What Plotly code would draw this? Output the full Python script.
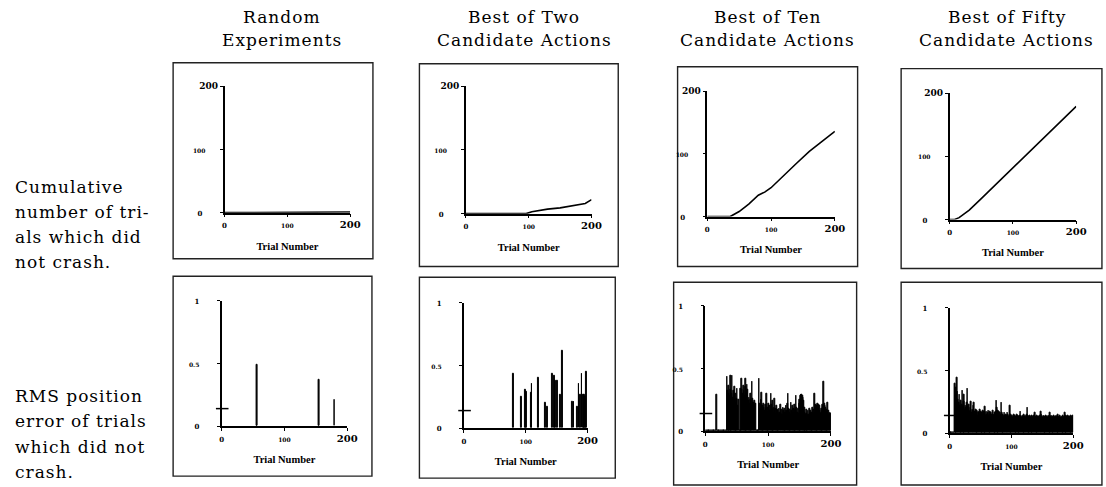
import plotly.graph_objects as go

W, H = 1106, 487

# ---------------- data ----------------
col_titles = [["Random", "Experiments"],
              ["Best of Two", "Candidate Actions"],
              ["Best of Ten", "Candidate Actions"],
              ["Best of Fifty", "Candidate Actions"]]
row_labels = [["Cumulative", "number of tri-", "als which did", "not crash."],
              ["RMS position", "error of trials", "which did not", "crash."]]

x_tick_vals = [0, 100, 200]
x_tick_labels = ["0", "100", "200"]
count_tick_vals = [0, 100, 200]
count_tick_labels = ["0", "100", "200"]
rms_tick_vals = [0, 0.5, 1]
rms_tick_labels = ["0", "0.5", "1"]
x_title = "Trial Number"

# cumulative number of trials which did not crash
cum_random_x = [0, 50, 100, 150, 200]
cum_random_y = [0, 0, 0, 0, 1]
cum_two_x = [0, 96, 105, 115, 130, 150, 165, 180, 190, 200]
cum_two_y = [0, 0, 3, 5, 7, 9, 12, 14, 16, 22]
cum_ten_x = [0, 36, 50, 65, 80, 90, 100, 120, 140, 160, 180, 200]
cum_ten_y = [0, 0, 8, 20, 34, 39, 46, 66, 85, 104, 120, 136]
cum_fifty_x = [0, 8, 15, 20, 31, 50, 100, 150, 200]
cum_fifty_y = [0, 0, 3, 7, 15, 33, 82, 131, 179]

# RMS position error of trials which did not crash (0 = crashed)
rms_random_trials = [56, 155, 180]
rms_random = [0.49, 0.37, 0.21]
rms_two_trials = [80, 93, 100, 101, 109, 110, 120, 132, 135, 143, 146, 148, 151,
                  156, 159, 176, 178, 184, 186, 188, 191, 193, 194, 195, 196, 198]
rms_two = [0.43, 0.25, 0.31, 0.29, 0.28, 0.35, 0.40, 0.20, 0.17, 0.43, 0.42, 0.38, 0.38,
           0.27, 0.62, 0.21, 0.21, 0.17, 0.35, 0.27, 0.43, 0.27, 0.27, 0.27, 0.25, 0.45]
rms_ten_trials = list(range(1, 201))
rms_ten = [
    0, 0, 0, 0, 0, 0, 0, 0, 0, 0,
    0, 0, 0, 0, 0, 0, 0, 0.29, 0, 0,
    0, 0, 0, 0, 0, 0, 0, 0, 0, 0,
    0, 0, 0, 0, 0.43, 0.32, 0.36, 0.30, 0.28, 0.33,
    0.44, 0.30, 0.44, 0.27, 0.32, 0.25, 0.35, 0.30, 0.22, 0.26,
    0.34, 0.20, 0.25, 0, 0, 0, 0.34, 0.42, 0.33, 0.30,
    0.36, 0.32, 0.28, 0.42, 0.35, 0.30, 0.37, 0.33, 0.24, 0.27,
    0.22, 0.25, 0.30, 0.21, 0.39, 0.26, 0.23, 0.20, 0.24, 0.22,
    0, 0, 0, 0, 0, 0.42, 0.22, 0.18, 0.25, 0.31,
    0.20, 0.17, 0.22, 0.19, 0.16, 0.21, 0.18, 0.30, 0.19, 0.15,
    0.22, 0.17, 0.20, 0.16, 0.30, 0.21, 0.18, 0.24, 0.15, 0.19,
    0.26, 0.18, 0.14, 0.20, 0.17, 0.16, 0.13, 0.18, 0.15, 0.21,
    0.14, 0.17, 0.13, 0.19, 0.16, 0.14, 0.18, 0.15, 0.20, 0.16,
    0.22, 0.30, 0.18, 0.15, 0.17, 0.13, 0.23, 0.16, 0.20, 0.15,
    0.18, 0.14, 0.21, 0.17, 0.28, 0.19, 0.15, 0.18, 0.14, 0.22,
    0.25, 0.28, 0.29, 0.29, 0.28, 0.27, 0.24, 0.19, 0.15, 0.13,
    0.17, 0.14, 0.12, 0.16, 0.13, 0.18, 0.14, 0.16, 0.13, 0.15,
    0.19, 0.14, 0.17, 0.30, 0.15, 0.21, 0.18, 0.20, 0.22, 0.19,
    0.21, 0.20, 0.16, 0.14, 0.18, 0.15, 0.21, 0.20, 0.39, 0.22,
    0.20, 0.19, 0.17, 0.15, 0.23, 0.14, 0.16, 0.13, 0.15, 0.14,
]
rms_fifty_trials = list(range(1, 201))
rms_fifty = [
    0, 0, 0, 0, 0, 0, 0, 0, 0.39, 0.30,
    0.36, 0.44, 0.33, 0.27, 0.24, 0.31, 0.22, 0.26, 0.20, 0.23,
    0.34, 0.21, 0.25, 0.31, 0.19, 0.22, 0.20, 0.24, 0.35, 0.21,
    0.18, 0.23, 0.17, 0.20, 0.25, 0.16, 0.19, 0.18, 0.22, 0.24,
    0.17, 0.15, 0.19, 0.16, 0.18, 0.14, 0.17, 0.16, 0.19, 0.15,
    0.17, 0.14, 0.16, 0.18, 0.15, 0.17, 0.21, 0.16, 0.14, 0.17,
    0.15, 0.16, 0.18, 0.14, 0.15, 0.17, 0.16, 0.14, 0.15, 0.18,
    0.15, 0.14, 0.16, 0.15, 0.17, 0.26, 0.20, 0.18, 0.15, 0.17,
    0.14, 0.16, 0.15, 0.24, 0.16, 0.14, 0.15, 0.13, 0.16, 0.14,
    0.15, 0.13, 0.14, 0.16, 0.15, 0.13, 0.14, 0.22, 0.15, 0.14,
    0.13, 0.14, 0.12, 0.15, 0.13, 0.14, 0.12, 0.13, 0.15, 0.13,
    0.14, 0.12, 0.13, 0.14, 0.17, 0.13, 0.12, 0.14, 0.13, 0.15,
    0.12, 0.13, 0.14, 0.12, 0.15, 0.20, 0.14, 0.13, 0.12, 0.14,
    0.13, 0.12, 0.14, 0.13, 0.12, 0.13, 0.14, 0.16, 0.12, 0.13,
    0.12, 0.14, 0.13, 0.12, 0.13, 0.14, 0.12, 0.17, 0.15, 0.13,
    0.12, 0.14, 0.13, 0.12, 0.13, 0.14, 0.12, 0.13, 0.12, 0.14,
    0.13, 0.12, 0.16, 0.13, 0.14, 0.12, 0.13, 0.12, 0.14, 0.13,
    0.12, 0.13, 0.14, 0.12, 0.15, 0.13, 0.12, 0.13, 0.14, 0.12,
    0.13, 0.12, 0.14, 0.13, 0.12, 0.13, 0.16, 0.14, 0.12, 0.13,
    0.12, 0.14, 0.13, 0.12, 0.13, 0.14, 0.12, 0.13, 0.12, 0.14,
]
# short reference mark drawn on each RMS axis
rms_reference = [0.14, 0.14, 0.14, 0.14]

cum_series = [(cum_random_x, cum_random_y), (cum_two_x, cum_two_y),
              (cum_ten_x, cum_ten_y), (cum_fifty_x, cum_fifty_y)]
rms_series = [(rms_random_trials, rms_random), (rms_two_trials, rms_two),
              (rms_ten_trials, rms_ten), (rms_fifty_trials, rms_fifty)]

# ---------------- geometry (pixels) ----------------
top_axes = [(225, 352, 83, 212), (469, 596, 83, 213), (713, 842, 88, 216), (958, 1086, 90, 219)]
bot_axes = [(222, 349, 302, 430), (467, 592, 304, 432), (711, 838, 307, 435), (958, 1083, 309, 437)]
top_frames = [(173, 375, 59, 259), (422, 623, 60, 267), (683, 865, 63, 267), (909, 1112, 65, 269)]
bot_frames = [(173, 374, 277, 481), (422, 620, 278, 483), (679, 864, 283, 490), (909, 1112, 283, 490)]
col_centers = [283, 528, 774, 1016]

SERIF = "DejaVu Serif"
INK = "#000000"
NB = "\u00a0"


def fx(p):
    return p / W


def fy(p):
    return 1 - p / H


def sized(t, s):
    return f"<span style='font-size:{s}px'>{t}</span>"


def spaced(t):
    return f"<span style='letter-spacing:1px'>{t}</span>"


xt_text = [sized(x_tick_labels[0], 7), sized(x_tick_labels[1], 6), sized(x_tick_labels[2], 10)]
cnt_text = [sized(count_tick_labels[0], 7) + NB * 5, sized(count_tick_labels[1], 6) + NB * 4,
            sized(count_tick_labels[2], 9)]
rms_text = [sized(rms_tick_labels[0], 7) + NB * 5, sized(rms_tick_labels[1], 6) + NB * 5,
            sized(rms_tick_labels[2], 7) + NB * 5]

fig = go.Figure()
layout = dict(width=W, height=H, margin=dict(l=0, r=0, t=0, b=0),
              paper_bgcolor="white", plot_bgcolor="white", showlegend=False,
              bargap=0, shapes=[], annotations=[])

tick_font = dict(family=SERIF, size=9, color=INK, weight="bold")
title_font = dict(family="Liberation Serif", size=10.5, color=INK, weight="bold")

n = 0
for row in range(2):
    for col in range(4):
        n += 1
        sfx = "" if n == 1 else str(n)
        x0, x1, y0, y1 = (top_axes if row == 0 else bot_axes)[col]
        xa = dict(domain=[fx(x0), fx(x1)], range=[0, 200], anchor="y" + sfx,
                  showline=True, linecolor=INK, linewidth=1.5, ticks="outside",
                  ticklen=3, tickwidth=1.2, tickcolor=INK, tickvals=x_tick_vals,
                  ticktext=xt_text, tickfont=tick_font, showgrid=False, zeroline=False,
                  fixedrange=True,
                  title=dict(text=x_title, font=title_font, standoff=13))
        if row == 0:
            yrange, yv, yt = [0, 200], count_tick_vals, cnt_text
        else:
            yrange, yv, yt = [0, 1], rms_tick_vals, rms_text
        ya = dict(domain=[fy(y1), fy(y0)], range=yrange, anchor="x" + sfx,
                  showline=True, linecolor=INK, linewidth=1.5, ticks="outside",
                  ticklen=3, tickwidth=1.2, tickcolor=INK, tickvals=yv, ticktext=yt,
                  tickfont=tick_font, showgrid=False, zeroline=False, fixedrange=True)
        layout["xaxis" + sfx] = xa
        layout["yaxis" + sfx] = ya

        if row == 0:
            xs, ys = cum_series[col]
            fig.add_trace(go.Scatter(x=xs, y=ys, mode="lines",
                                     line=dict(color=INK, width=1.6),
                                     xaxis="x" + sfx, yaxis="y" + sfx))
        else:
            xs, ys = rms_series[col]
            fig.add_trace(go.Bar(x=xs, y=ys, width=1.2,
                                 marker=dict(color=INK, line=dict(color=INK, width=1.0)),
                                 xaxis="x" + sfx, yaxis="y" + sfx))
            fig.add_trace(go.Scatter(x=[1], y=[rms_reference[col]], mode="markers", cliponaxis=False,
                                     marker=dict(symbol="line-ew", size=9, line=dict(color=INK, width=1.5)),
                                     xaxis="x" + sfx, yaxis="y" + sfx))

        fx0, fx1, fy0, fy1 = (top_frames if row == 0 else bot_frames)[col]
        layout["shapes"].append(dict(type="rect", xref="paper", yref="paper",
                                     x0=fx(fx0), x1=fx(fx1), y0=fy(fy1), y1=fy(fy0),
                                     line=dict(color="#222222", width=1.4), layer="below"))

# column titles
for col in range(4):
    for i, txt in enumerate(col_titles[col]):
        layout["annotations"].append(dict(
            text=spaced(txt), xref="paper", yref="paper", x=fx(col_centers[col]),
            y=fy([12, 36][i]), xanchor="center", yanchor="middle", showarrow=False,
            font=dict(family=SERIF, size=17, color=INK)))

# row labels
row_line_y = [[186, 211, 237, 262], [399, 425, 451, 477]]
for r in range(2):
    for i, txt in enumerate(row_labels[r]):
        layout["annotations"].append(dict(
            text=spaced(txt), xref="paper", yref="paper", x=fx(11),
            y=fy(row_line_y[r][i]), xanchor="left", yanchor="middle", showarrow=False,
            font=dict(family=SERIF, size=17, color=INK)))

fig.update_layout(**layout)
fig.write_html("out.html")
